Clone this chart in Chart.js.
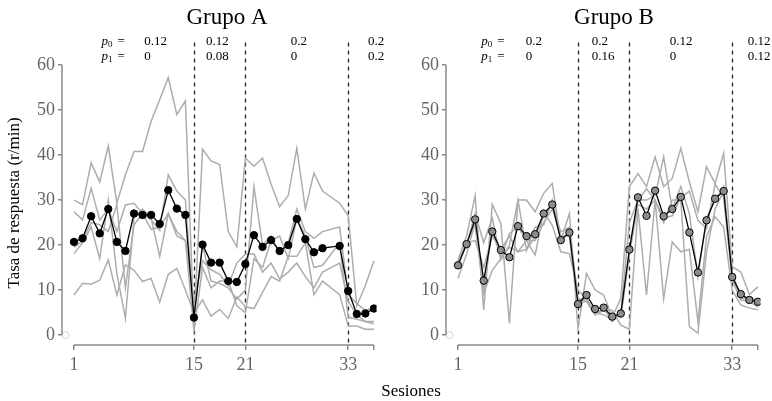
<!DOCTYPE html>
<html>
<head>
<meta charset="utf-8">
<script src="https://cdn.jsdelivr.net/npm/chart.js@4"></script>
<style>
	body { margin: 0; background: #fff; width: 772px; height: 401px; overflow: hidden; position: relative; }
	canvas { position: absolute; top: 0; }
	#chart_a { left: 0; }
	#chart_b { left: 386px; }
	#x_title { position: absolute; left: 411px; top: 382px; transform: translateX(-50%); font: 17px 'Liberation Serif', serif; line-height: 17px; color: #000; white-space: nowrap; }
</style>
</head>
<body>
<canvas id="chart_a" width="386" height="401"></canvas>
<canvas id="chart_b" width="386" height="401"></canvas>
<div id="x_title">Sesiones</div>
<script>
const sessions = [1, 2, 3, 4, 5, 6, 7, 8, 9, 10, 11, 12, 13, 14, 15, 16, 17, 18, 19, 20, 21, 22, 23, 24, 25, 26, 27, 28, 29, 30, 31, 32, 33, 34, 35, 36];
const phaseChanges = [15, 21, 33];
const xTicks = [1, 15, 21, 33, 36];
const yTicks = [0, 10, 20, 30, 40, 50, 60];

// Grupo A (session 31 missing)
const meanA = [20.7, 21.5, 26.4, 22.6, 28.0, 20.7, 18.7, 27.0, 26.7, 26.7, 24.7, 32.2, 28.1, 26.7, 3.9, 20.1, 16.1, 16.1, 12.0, 11.8, 15.8, 22.2, 19.6, 21.1, 18.7, 20.0, 25.8, 21.3, 18.4, 19.3, null, 19.8, 9.8, 4.7, 4.8, 5.9];
const subjectA1 = [30, 29, 38.3, 34, 42, 29.3, 35.6, 40.8, 40.8, 47.5, 52.3, 57.2, 49, 52, 2, 41.3, 38.7, 37.9, 23, 19.6, 39.3, 37.5, 39.3, 33.5, 28.5, 31, 41.5, 28, 36, 32, null, 29.3, 26.5, 6.5, 11, 16.5];
const subjectA2 = [27.4, 25.6, 32.6, 25.6, 28, 23, 28.9, 29.3, 27, 25.6, 23.3, 35.6, 32, 30, 4, 20, 12, 11.5, 10.5, 8, 10, 33, 20, 22, 18, 20.5, 28, 23, 21.5, 23, null, 24, 9, 7, 5.5, 6];
const subjectA3 = [18.1, 20.5, 24, 17, 30, 13.7, 3.7, 26, 28, 26, 17.5, 27, 22, 21, 1, 15, 10.5, 12, 12, 6.5, 5, 17, 15, 21, 22, 17, 26, 22, 15, 15.5, null, 20.5, 4, 3.5, 3, 3];
const subjectA4 = [19.5, 21, 25, 24.5, 23, 29, 10.5, 24.5, 27, 23.5, 24, 27, 23, 21, 7.5, 16.5, 14.5, 13.5, 11, 16, 18, 18, 14, 16, 12.5, 14, 16, 13, 10.5, 14, null, 16, 7.5, 4.5, 3, 2.5];
const subjectA5 = [8.9, 11.5, 11.3, 12.2, 16.7, 8.9, 15.6, 14.4, 11.9, 12.6, 7.3, 13.5, 14.8, 10, 5, 7.8, 4.2, 5.7, 3.7, 8.5, 6.3, 5.9, 9.5, 13, 12, 17.5, 17.5, 20.5, 9, 12, null, 9, 2, 2, 1.3, 1.3];
const p0A = ['0.12', '0.12', '0.2', '0.2'];
const p1A = ['0', '0.08', '0', '0.2'];

// Grupo B
const meanB = [15.5, 20.2, 25.7, 12.1, 23.0, 18.9, 17.3, 24.2, 22.0, 22.4, 27.0, 29.0, 21.1, 22.8, 6.9, 8.9, 5.8, 6.1, 4.1, 4.8, 19.0, 30.6, 26.5, 32.1, 26.4, 28.0, 30.7, 22.8, 13.9, 25.5, 30.3, 32.0, 12.9, 9.1, 7.8, 7.4];
const subjectB1 = [16.7, 22, 31, 5.6, 29, 24.8, 2.6, 30, 30, 27.4, 31.5, 33.7, 21, 27, 1.5, 13.7, 10, 8.9, 4, 8.1, 33, 35.9, 33, 39.6, 33, 34.8, 41.5, 34, 27.4, 37.4, 33.7, 40.4, 15.2, 14, 9, 10.7];
const subjectB2 = [12.6, 18, 25, 9.3, 14.4, 17, 22.6, 24, 21, 17.8, 27.4, 24.4, 18.5, 18.1, 10, 8, 5, 5.5, 5.5, 2.2, 1.3, 28, 8.9, 30, 8.1, 20.7, 18.5, 19, 3, 21.9, 26.3, 24, 10, 6.7, 6, 5.6];
const subjectB3 = [16, 20, 27, 20.5, 26, 16.7, 20, 30, 18.9, 24, 24.5, 30, 22, 22, 7, 7.5, 4.5, 6, 3, 5, 25, 30, 30, 31, 39.6, 28, 33, 27, 13, 26, 30, 33, 13, 9, 8, 7];
const subjectB4 = [15.5, 20.5, 21, 15, 22, 19, 22, 18.5, 21, 21, 25, 28, 23, 24, 8, 8, 5, 4.5, 3.5, 4.5, 18, 29, 28, 30, 25, 30, 30, 1.9, 0.4, 18.5, 28, 32, 14, 8, 8.5, 7.5];
const subjectB5 = [16.5, 20.5, 24.5, 10, 23.5, 17, 19.5, 18.5, 19, 21.8, 26.5, 29, 21, 23, 8, 7.5, 4.5, 5.5, 4.5, 4, 18, 30, 32.5, 30, 26, 26.5, 30.5, 32, 25.5, 23.7, 33.5, 30.6, 12.3, 7.8, 7.5, 6.2];
const p0B = ['0.2', '0.2', '0.12', '0.12'];
const p1B = ['0', '0.16', '0', '0.12'];

function ToPoints(values) {
	return sessions.map((s, i) => ({ x: s, y: values[i] }));
}

const panelPlugin = {
	id: 'panel',
	beforeDatasetsDraw(chart) {
		const ctx = chart.ctx;
		const area = chart.chartArea;
		const x = chart.scales.x;
		ctx.save();
		ctx.strokeStyle = '#222';
		ctx.lineWidth = 1.3;
		ctx.setLineDash([4, 4]);
		phaseChanges.forEach(s => {
			const px = Math.round(x.getPixelForValue(s)) + 0.5;
			ctx.beginPath();
			ctx.moveTo(px, area.top);
			ctx.lineTo(px, area.bottom);
			ctx.stroke();
		});
		ctx.restore();
	},
	afterDraw(chart, args, opts) {
		const ctx = chart.ctx;
		const area = chart.chartArea;
		const x = chart.scales.x;
		const y = chart.scales.y;
		ctx.save();

		// detached axis lines
		ctx.strokeStyle = '#8a8a8a';
		ctx.lineWidth = 1.5;
		ctx.beginPath();
		ctx.moveTo(area.left, y.getPixelForValue(60));
		ctx.lineTo(area.left, y.getPixelForValue(0));
		ctx.stroke();
		ctx.beginPath();
		ctx.moveTo(x.getPixelForValue(1), area.bottom);
		ctx.lineTo(x.getPixelForValue(36), area.bottom);
		ctx.stroke();

		// title
		ctx.fillStyle = '#000';
		ctx.textAlign = 'center';
		ctx.textBaseline = 'middle';
		ctx.font = '23px "Liberation Serif", serif';
		ctx.fillText(opts.title, opts.titleX, 18);

		// phase parameters
		const rows = [[opts.p0, 41.5, '0'], [opts.p1, 56.5, '1']];
		rows.forEach(([values, py, sub]) => {
			let px = x.getPixelForValue(opts.labelAt);
			ctx.textAlign = 'left';
			ctx.font = 'italic 13px "Liberation Serif", serif';
			ctx.fillText('p', px, py);
			px += ctx.measureText('p').width;
			ctx.font = '9px "Liberation Serif", serif';
			ctx.fillText(sub, px, py + 3);
			px += ctx.measureText(sub).width + 5;
			ctx.font = '13px "Liberation Serif", serif';
			ctx.fillText('=', px, py);
			values.forEach((v, i) => {
				ctx.fillText(v, x.getPixelForValue(opts.valuesAt[i]), py);
			});
		});

		if (opts.yTitle) {
			ctx.translate(15, 203);
			ctx.rotate(-Math.PI / 2);
			ctx.textAlign = 'center';
			ctx.font = '17px "Liberation Serif", serif';
			ctx.fillText(opts.yTitle, 0, 0);
		}
		ctx.restore();
	}
};

function BuildChart(canvas, mean, subjects, markerColor, yWidth, rightPad, panel) {
	const datasets = [{
		data: ToPoints(mean),
		order: 0,
		borderColor: '#000',
		borderWidth: 1.3,
		pointRadius: 3.7,
		pointBackgroundColor: markerColor,
		pointBorderColor: '#000',
		pointBorderWidth: 1,
		spanGaps: true
	}];
	subjects.forEach(values => {
		datasets.push({
			data: ToPoints(values),
			order: 1,
			borderColor: '#adadad',
			borderWidth: 1.5,
			pointRadius: 0,
			spanGaps: true
		});
	});
	datasets.push({
		data: [{ x: 0, y: 0 }],
		order: 2,
		showLine: false,
		pointRadius: 3.5,
		pointBackgroundColor: '#fff',
		pointBorderColor: '#d4d4d4',
		pointBorderWidth: 1
	});

	const tickFont = { family: 'Liberation Serif', size: 18 };

	return new Chart(canvas.getContext('2d'), {
		type: 'line',
		data: { datasets: datasets },
		options: {
			responsive: false,
			animation: false,
			devicePixelRatio: 1,
			events: [],
			layout: { padding: { left: 0, right: rightPad, top: 42.5, bottom: 0 } },
			plugins: {
				legend: { display: false },
				tooltip: { enabled: false },
				panel: panel
			},
			scales: {
				x: {
					type: 'linear',
					min: -0.4,
					max: 36.3,
					border: { display: false },
					grid: { drawOnChartArea: false, tickLength: 5, color: '#8a8a8a', lineWidth: 1.5 },
					ticks: {
						autoSkip: false,
						maxRotation: 0,
						padding: 4,
						color: '#666',
						font: tickFont,
						callback: v => v === 36 ? '' : String(v)
					},
					afterBuildTicks: scale => { scale.ticks = xTicks.map(v => ({ value: v })); },
					afterFit: scale => { scale.height = 56; }
				},
				y: {
					min: -2.2,
					max: 65,
					border: { display: false },
					grid: { drawOnChartArea: false, tickLength: 4, color: '#8a8a8a', lineWidth: 1.5 },
					ticks: { padding: 3, color: '#666', font: tickFont },
					afterBuildTicks: scale => { scale.ticks = yTicks.map(v => ({ value: v })); },
					afterFit: scale => { scale.width = yWidth; }
				}
			}
		},
		plugins: [panelPlugin]
	});
}

BuildChart(window.chart_a, meanA, [subjectA1, subjectA2, subjectA3, subjectA4, subjectA5], '#000', 62, 9.5, {
	title: 'Grupo A',
	titleX: 227,
	p0: p0A,
	p1: p1A,
	labelAt: 4.2,
	valuesAt: [9.2, 16.4, 26.3, 35.3],
	yTitle: 'Tasa de respuesta (r/min)'
});

BuildChart(window.chart_b, meanB, [subjectB1, subjectB2, subjectB3, subjectB4, subjectB5], '#8c8c8c', 60, 11.5, {
	title: 'Grupo B',
	titleX: 228,
	p0: p0B,
	p1: p1B,
	labelAt: 3.7,
	valuesAt: [8.9, 16.6, 25.7, 34.8],
	yTitle: null
});
</script>
</body>
</html>
